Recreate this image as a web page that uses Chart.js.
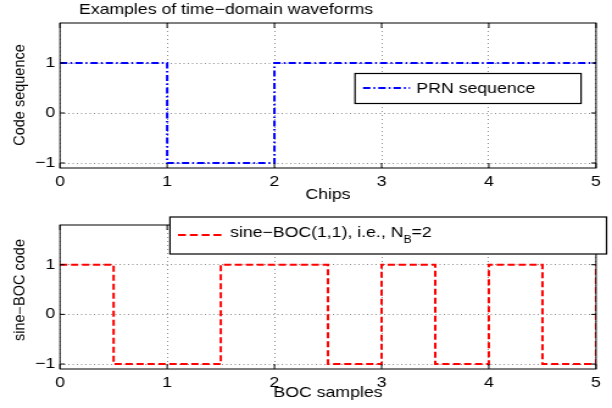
<!DOCTYPE html>
<html lang="en">
<head>
<meta charset="UTF-8">
<title>Examples of time-domain waveforms</title>
<script src="https://cdn.jsdelivr.net/npm/chart.js"></script>
<style>
  body { margin: 0; background: #fff; }
  #wrap { position: relative; width: 612px; height: 408px; overflow: hidden; background: #fff; }
  canvas { position: absolute; left: 0; }
</style>
</head>
<body>
<div id="wrap">
  <canvas id="topChart" width="502" height="205" style="top:0;width:612px;height:205px"></canvas>
  <canvas id="bottomChart" width="502" height="208" style="top:200px;width:612px;height:208px"></canvas>
</div>
<script>
// data
const chips = [0, 1, 2, 3, 4, 5];
const prnCode = [1, -1, 1, 1, 1, 1];
const bocSamples = [0, 0.5, 1, 1.5, 2, 2.5, 3, 3.5, 4, 4.5, 5];
const bocCode = [1, -1, -1, 1, 1, -1, 1, -1, 1, -1, 1];
const xTicks = [0, 1, 2, 3, 4, 5];
const yTicks = [-1, 0, 1];

// canvases are drawn narrow and stretched sideways, like the original figure
const SX = 612 / 502;
const FONT = '"Liberation Sans", Arial, sans-serif';

function minus(v) {
    return v < 0 ? '\u2212' + Math.abs(v) : String(v);
}

const framePlugin = {
    id: 'frame',
    afterDraw(chart, args, o) {
        const ctx = chart.ctx;
        const a = chart.chartArea;
        const x = chart.scales.x, y = chart.scales.y;
        ctx.save();
        // box + inward ticks
        ctx.strokeStyle = '#000';
        ctx.lineWidth = 1;
        ctx.setLineDash([]);
        ctx.strokeRect(a.left, a.top, a.right - a.left, a.bottom - a.top);
        ctx.beginPath();
        xTicks.forEach(v => {
            const px = x.getPixelForValue(v);
            ctx.moveTo(px, a.bottom); ctx.lineTo(px, a.bottom - 5);
            ctx.moveTo(px, a.top); ctx.lineTo(px, a.top + 5);
        });
        yTicks.forEach(v => {
            const py = y.getPixelForValue(v);
            ctx.moveTo(a.left, py); ctx.lineTo(a.left + 4, py);
            ctx.moveTo(a.right, py); ctx.lineTo(a.right - 4, py);
        });
        ctx.stroke();

        ctx.fillStyle = '#000';
        ctx.font = '14.5px ' + FONT;
        ctx.textBaseline = 'alphabetic';

        if (o.title) {
            ctx.textAlign = 'center';
            ctx.fillText(o.title, 185.4, 14);
        }
        // x label
        ctx.textAlign = 'center';
        ctx.fillText(o.xLabel, (a.left + a.right) / 2, o.xLabelY);
        // y label (rotated text is not stretched in the original)
        ctx.save();
        ctx.translate(19.9, o.yLabelY);
        ctx.scale(1 / SX, 1);
        ctx.rotate(-Math.PI / 2);
        ctx.fillText(o.yLabel, 0, 0);
        ctx.restore();

        // legend
        const L = o.legend;
        ctx.fillStyle = '#fff';
        ctx.fillRect(L.x1, L.y1, L.x2 - L.x1, L.y2 - L.y1);
        ctx.strokeStyle = '#000';
        ctx.lineWidth = 1.2;
        ctx.strokeRect(L.x1, L.y1, L.x2 - L.x1, L.y2 - L.y1);
        ctx.beginPath();
        ctx.strokeStyle = L.color;
        ctx.lineWidth = 2;
        ctx.setLineDash(L.dash);
        ctx.moveTo(L.lx1, L.ly);
        ctx.lineTo(L.lx2, L.ly);
        ctx.stroke();
        ctx.setLineDash([]);
        ctx.fillStyle = '#000';
        ctx.textAlign = 'left';
        let tx = L.tx;
        ctx.fillText(L.text, tx, L.ty);
        if (L.sub) {
            tx += ctx.measureText(L.text).width;
            ctx.font = '10px ' + FONT;
            ctx.fillText(L.sub, tx, L.ty + 6);
            tx += ctx.measureText(L.sub).width;
            ctx.font = '14.5px ' + FONT;
            ctx.fillText(L.after, tx, L.ty);
        }
        ctx.restore();
    }
};

function makeChart(id, xs, ys, color, dash, axisHeight, padTop, frameOpts) {
    const pts = xs.map((v, i) => ({x: v, y: ys[i]}));
    return new Chart(document.getElementById(id), {
        type: 'line',
        data: {
            datasets: [{
                data: pts,
                stepped: 'before',
                borderColor: color,
                borderWidth: 2,
                borderDash: dash,
                pointRadius: 0,
                fill: false
            }]
        },
        options: {
            responsive: false,
            devicePixelRatio: 1,
            animation: false,
            layout: { padding: { top: padTop, right: 13.1, left: 0, bottom: 0 } },
            plugins: {
                legend: { display: false },
                tooltip: { enabled: false },
                frame: frameOpts
            },
            scales: {
                x: {
                    type: 'linear',
                    min: 0, max: 5,
                    afterBuildTicks: s => { s.ticks = xTicks.map(v => ({value: v})); },
                    afterFit: s => { s.height = axisHeight; },
                    border: { display: false, dash: [1, 3] },
                    grid: { color: '#8c8c8c', lineWidth: 1, drawTicks: false },
                    ticks: { color: '#000', padding: 5, maxRotation: 0, font: { family: FONT, size: 14.5 } }
                },
                y: {
                    min: -1.1, max: 1.8,
                    afterBuildTicks: s => { s.ticks = yTicks.map(v => ({value: v})); },
                    afterFit: s => { s.width = 49.2; },
                    border: { display: false, dash: [1, 2.5] },
                    grid: { color: '#8c8c8c', lineWidth: 1, drawTicks: false },
                    ticks: { color: '#000', padding: 4, callback: v => minus(v), font: { family: FONT, size: 14.5 } }
                }
            }
        },
        plugins: [framePlugin]
    });
}

makeChart('topChart', chips, prnCode, '#0000ff', [6, 2.5, 1.5, 2.5], 37, 23, {
    title: 'Examples of time\u2212domain waveforms',
    xLabel: 'Chips', xLabelY: 199,
    yLabel: 'Code sequence', yLabelY: 95,
    legend: {
        x1: 291.2, y1: 73.5, x2: 476.6, y2: 103.5,
        lx1: 297.8, lx2: 336.3, ly: 88, color: '#0000ff', dash: [6, 2.5, 1.5, 2.5],
        tx: 341.6, ty: 93, text: 'PRN sequence'
    }
});

makeChart('bottomChart', bocSamples, bocCode, '#ff0000', [6, 3], 39, 25, {
    xLabel: 'BOC samples', xLabelY: 197,
    yLabel: 'sine\u2212BOC code', yLabelY: 90,
    legend: {
        x1: 139.4, y1: 17, x2: 497.5, y2: 54,
        lx1: 146, lx2: 184.6, ly: 35, color: '#ff0000', dash: [6.5, 3.2],
        tx: 188.7, ty: 37, text: 'sine\u2212BOC(1,1), i.e., N', sub: 'B', after: '=2'
    }
});
</script>
</body>
</html>
